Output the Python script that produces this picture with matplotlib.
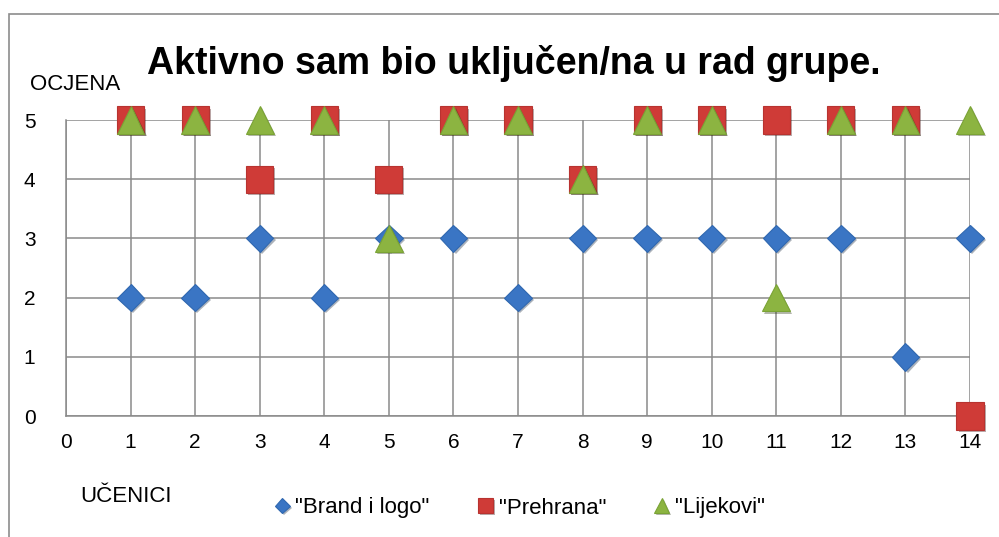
import matplotlib

matplotlib.use("Agg")
import matplotlib.pyplot as plt
import matplotlib.patheffects as pe
from matplotlib.patches import Rectangle

plt.rcParams["font.family"] = ["Liberation Sans", "DejaVu Sans"]

# ---- data ----
ucenici = [1, 2, 3, 4, 5, 6, 7, 8, 9, 10, 11, 12, 13, 14]
brand_logo = [2, 2, 3, 2, 3, 3, 2, 3, 3, 3, 3, 3, 1, 3]
prehrana = [5, 5, 4, 5, 4, 5, 5, 4, 5, 5, 5, 5, 5, 0]
lijekovi = [5, 5, 5, 5, 3, 5, 5, 4, 5, 5, 2, 5, 5, 5]
x_ticks = list(range(0, 15))
y_ticks = [0, 1, 2, 3, 4, 5]

BLUE = "#3a75c4"
RED = "#cf3b37"
GREEN = "#8cb441"
GRID = "#8a8a8a"

fig = plt.figure(figsize=(9.99, 5.37), dpi=100)
ax = fig.add_axes([66 / 999, 1 - 416 / 537, (970 - 66) / 999, (416 - 120) / 537])

# outer chart frame
fig.patches.append(Rectangle((9 / 999, -0.1), 1.2, 1 - 14 / 537 + 0.1,
                             transform=fig.transFigure, fill=False,
                             edgecolor="#8c8c8c", linewidth=1.2))

ax.set_xlim(0, 14)
ax.set_ylim(0, 5)
ax.set_xticks(x_ticks)
ax.set_yticks(y_ticks)
ax.grid(True, color=GRID, linewidth=1.1)
ax.set_axisbelow(True)
for s in ["top", "right"]:
    ax.spines[s].set_visible(False)
for s in ["left", "bottom"]:
    ax.spines[s].set_color(GRID)
    ax.spines[s].set_linewidth(1.1)
ax.tick_params(length=0, labelsize=15, pad=0)
ax.tick_params(axis="y", pad=22)
ax.tick_params(axis="x", pad=12)

shadow = [pe.SimplePatchShadow(offset=(1.5, -1.5), alpha=0.35), pe.Normal()]

ax.plot(ucenici, brand_logo, linestyle="none", marker="D", markersize=14,
        color=BLUE, markeredgecolor="#3068b0", markeredgewidth=0.8,
        label='"Brand i logo"', clip_on=False, zorder=3, path_effects=shadow)
ax.plot(ucenici, prehrana, linestyle="none", marker="s", markersize=19.5,
        color=RED, markeredgecolor="#b83330", markeredgewidth=0.8,
        label='"Prehrana"', clip_on=False, zorder=4, path_effects=shadow)
ax.plot(ucenici, lijekovi, linestyle="none", marker="^", markersize=20,
        color=GREEN, markeredgecolor="#7aa335", markeredgewidth=0.8,
        label='"Lijekovi"', clip_on=False, zorder=5, path_effects=shadow)

fig.text(514 / 999, 1 - 63 / 537, "Aktivno sam bio uključen/na u rad grupe.",
         ha="center", va="center", fontsize=27, fontweight="bold")
fig.text(30 / 999, 1 - 84 / 537, "OCJENA", ha="left", va="center", fontsize=16)
fig.text(80 / 999, 1 - 497 / 537, "UČENICI", ha="left", va="center", fontsize=16)

fig.legend(loc="center", bbox_to_anchor=(518 / 999, 1 - 508 / 537),
           ncol=3, frameon=False, fontsize=16, handletextpad=0.1,
           columnspacing=2.0, markerscale=0.55, handlelength=1.0)

fig.savefig("out.png", dpi=100, facecolor="white")
